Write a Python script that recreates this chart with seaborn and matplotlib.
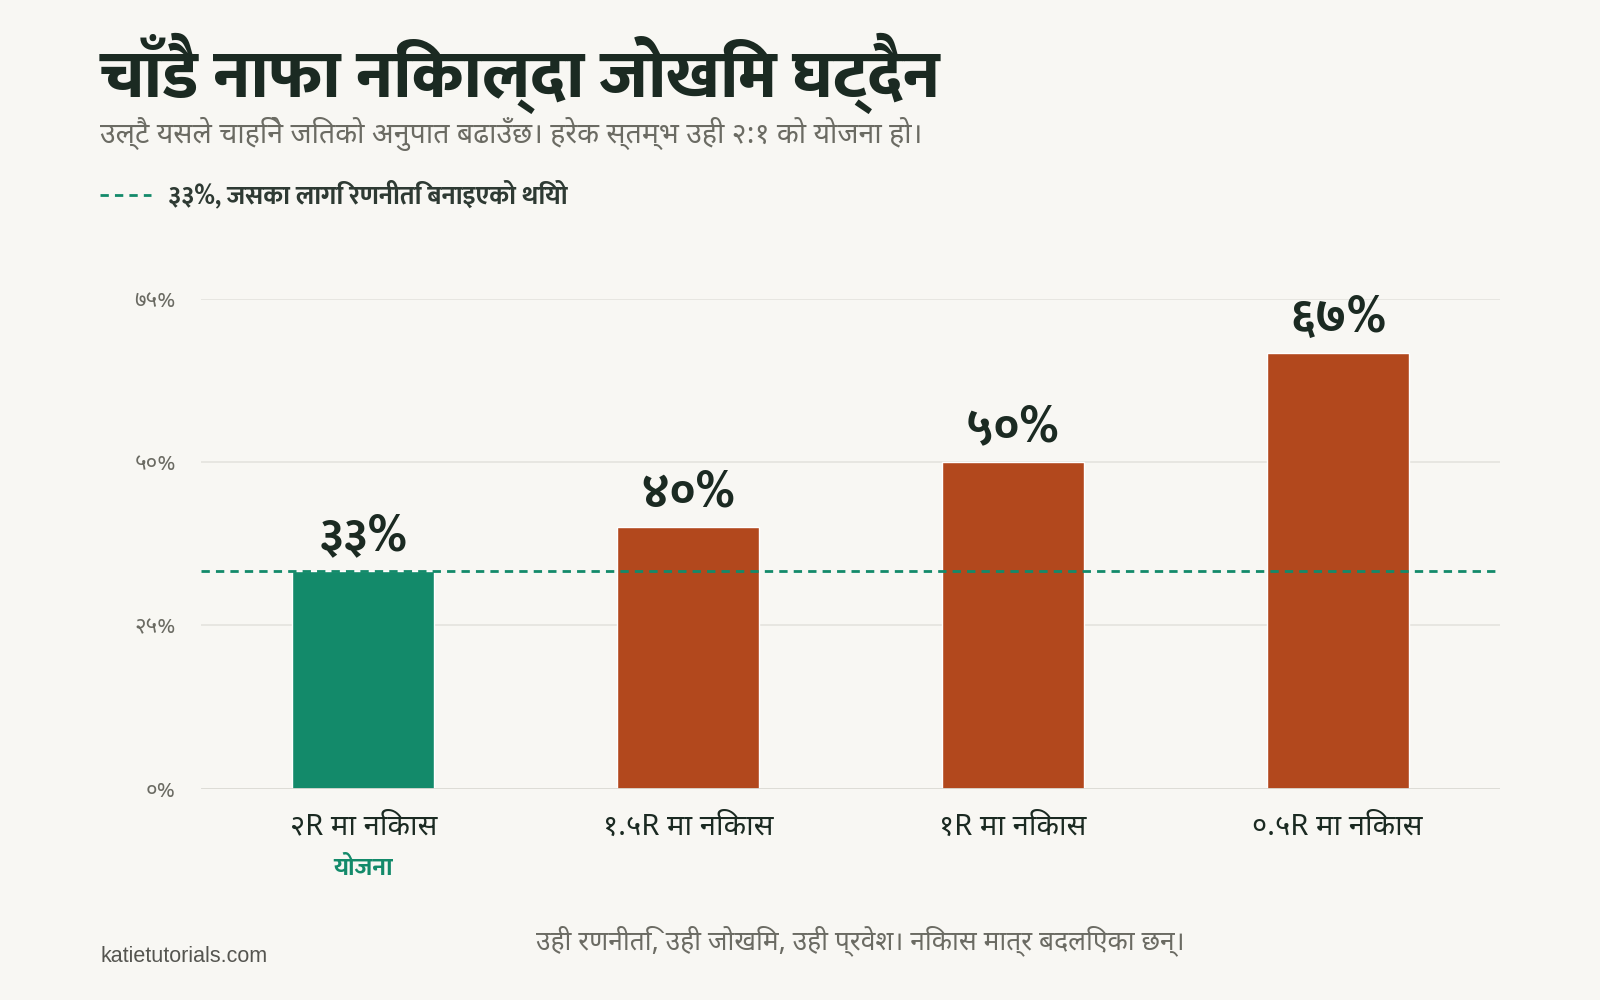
import matplotlib
matplotlib.use("Agg")
import matplotlib.pyplot as plt
import seaborn as sns

# data
categories = ["२R मा निकास", "१.५R मा निकास", "१R मा निकास", "०.५R मा निकास"]
win_rate = [33.3, 40.0, 50.0, 66.7]
bar_labels = ["३३%", "४०%", "५०%", "६७%"]
planned = 33.3
yticks = [0, 25, 50, 75]
ytick_labels = ["०%", "२५%", "५०%", "७५%"]

bg = "#F8F7F3"
green = "#138A6A"
rust = "#B2481D"
dark = "#1B2A22"
grey = "#6B6B63"

sns.set_theme(style="white")
deva = ["Noto Sans Devanagari", "Noto Sans", "DejaVu Sans"]
deva_bold = ["Ek Mukta", "Noto Sans Devanagari", "DejaVu Sans"]
plt.rcParams["font.family"] = deva

fig = plt.figure(figsize=(16, 10), dpi=100, facecolor=bg)
ax = fig.add_axes([0.1256, 0.2112, 0.8119, 0.49])
ax.set_facecolor(bg)

colors = [green] + [rust] * 3
sns.barplot(x=categories, y=win_rate, hue=categories, palette=colors,
            legend=False, width=0.437, saturation=1, ax=ax, zorder=3)

ax.set_ylim(0, 75)
ax.set_xlim(-0.5, 3.5)
ax.set_yticks(yticks)
ax.set_yticklabels(ytick_labels, color=grey, fontsize=16)
for y in yticks[1:]:
    ax.axhline(y, color="#E4E3DE", lw=1.2, zorder=1)
ax.axhline(0, color="#DAD9D3", lw=2, zorder=4)
for s in ax.spines.values():
    s.set_visible(False)
ax.tick_params(axis="both", length=0)
ax.tick_params(axis="y", pad=18)
ax.tick_params(axis="x", pad=17)
ax.set_xticks(range(len(categories)))
ax.set_xticklabels(categories, fontsize=21, color=dark)
ax.set_xlabel("")
ax.set_ylabel("")

# target line
ax.axhline(planned, color=green, lw=2, ls=(0, (3, 2.2)), zorder=5)

# value labels
for i, (v, lab) in enumerate(zip(win_rate, bar_labels)):
    ax.annotate(lab, (i, v), xytext=(0, 7), textcoords="offset points",
                ha="center", va="bottom", fontsize=35, fontweight="bold",
                family=deva_bold, color=dark, annotation_clip=False)

# plan tag under the first category
ax.annotate("योजना", (0, 0), xytext=(0, -58), textcoords="offset points",
            ha="center", va="center", fontsize=18, fontweight="bold",
            family=deva_bold, color=green, annotation_clip=False)

# title, subtitle, legend
fig.text(0.0625, 0.903, "चाँडै नाफा निकाल्दा जोखिम घट्दैन", fontsize=48,
         fontweight="extra bold", family=deva_bold, color=dark,
         ha="left", va="baseline")
fig.text(0.0625, 0.857, "उल्टै यसले चाहिने जितको अनुपात बढाउँछ। हरेक स्तम्भ उही २:१ को योजना हो।",
         fontsize=20.5, color=grey, ha="left", va="baseline")
fig.add_artist(plt.Line2D([0.0625, 0.0944], [0.805, 0.805], color=green, lw=2,
                          ls=(0, (3, 2.2)), transform=fig.transFigure))
fig.text(0.105, 0.805, "३३%, जसका लागि रणनीति बनाइएको थियो", fontsize=18.5,
         fontweight="bold", family=deva_bold, color="#2E3A33",
         ha="left", va="center")

# footer
fig.text(0.5377, 0.059, "उही रणनीति, उही जोखिम, उही प्रवेश। निकास मात्र बदलिएका छन्।",
         fontsize=19, color=grey, ha="center", va="center")
fig.text(0.0625, 0.043, "katietutorials.com", fontsize=15.5, color="#555550",
         ha="left", va="center", family=["Liberation Sans", "DejaVu Sans"])

fig.savefig("out.png", dpi=100, facecolor=bg)
